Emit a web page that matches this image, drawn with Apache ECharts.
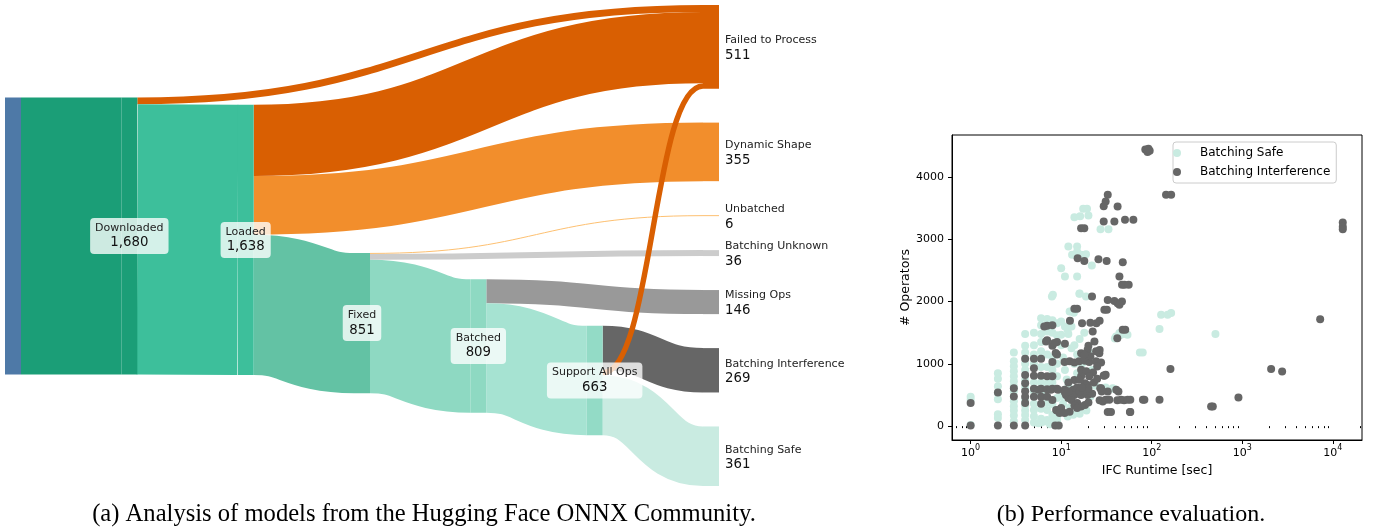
<!DOCTYPE html>
<html>
<head>
<meta charset="utf-8">
<script src="https://cdn.jsdelivr.net/npm/echarts@6/dist/echarts.min.js"></script>
<style>
html,body{margin:0;padding:0;background:#ffffff;}
#chart{width:1374px;height:529px;}
</style>
</head>
<body>
<div id="chart"></div>
<script>
// ---------------- DATA ----------------
const nodeNames = ['Models', 'Downloaded', 'Loaded', 'Fixed', 'Batched', 'Support All Ops',
  'Failed to Process', 'Dynamic Shape', 'Unbatched', 'Batching Unknown', 'Missing Ops',
  'Batching Interference', 'Batching Safe'];
const nodeValues = [1680, 1680, 1638, 851, 809, 663, 511, 355, 6, 36, 146, 269, 361];

const linkSources = ['Models', 'Downloaded', 'Downloaded', 'Loaded', 'Loaded', 'Loaded',
  'Fixed', 'Fixed', 'Fixed', 'Batched', 'Batched', 'Support All Ops', 'Support All Ops', 'Support All Ops'];
const linkTargets = ['Downloaded', 'Failed to Process', 'Loaded', 'Failed to Process', 'Dynamic Shape', 'Fixed',
  'Unbatched', 'Batching Unknown', 'Batched', 'Missing Ops', 'Support All Ops', 'Batching Interference', 'Failed to Process', 'Batching Safe'];
const linkValues = [1680, 42, 1638, 432, 355, 851, 6, 36, 809, 146, 663, 269, 33, 361];

// [runtime seconds, # operators]
const safePoints = [
  [1,470],[1,420],[1,20],
  [2,850],[2,760],[2,640],[2,530],[2,430],[2,190],[2,130],
  [3,1180],[3,1040],[3,960],[3,880],[3,800],[3,720],[3,640],[3,560],[3,400],[3,320],[3,250],[3,170],[3,80],
  [4,1480],[4,1290],[4,1180],[4,1000],[4,900],[4,740],[4,620],[4,420],[4,330],[4,250],[4,180],[4,100],
  [5,1500],[5,1300],[5,1150],[5,1000],[5,700],[5,560],[5,360],[5,260],[5,160],[5,60],
  [6,1730],[6,1620],[6,1480],[6,1350],[6,1200],[6,950],[6,700],[6,520],[6,280],[6,120],[6,60],
  [7,1720],[7,1520],[7,1150],[7,950],[7,680],[7,380],[7,260],[7,100],
  [8,1700],[8,1500],[8,1100],[8,900],[8,700],[8,350],[8,180],[8,60],
  [9,1650],[9,1460],[9,1000],[9,800],[9,450],[9,150],[9,80],
  [7.9,2080],[8.1,2110],
  [10,2535],[11,2401],[15,2401],[15.9,2123],[18.8,2080],[16,2130],
  [12,2883],[15,2883],[15,2800],[13.2,2750],[16.6,2749],[18.8,2760],[21.8,2580],
  [17.5,3488],[19.3,3488],[14,3354],[16.2,3370],[20,3380],[27.2,3161],[33.3,3161],
  [13.8,1820],[12.4,1840],[13,1840],[10,1680],[11.8,1546],[10,1465],[11,1600],[13,1600],[12,1480],
  [16,1400],[18,1500],[14,1300],[13,1250],[10,1300],[15,1150],[10.5,1100],[20,1200],[17,1000],
  [14,1000],[11,900],[15,850],[22,900],[11.5,750],[12,650],[24,650],[10,480],[21,470],[10.5,360],
  [12.5,300],[19,250],[16,200],[11.8,155],[13.6,182],[8.4,155],[5.6,48],[6.5,75],[7.5,30],[9,40],
  [31,620],[38,600],[28,607],[37,607],
  [40.4,1439],[44,1493],[39.2,1407],[52,1477],[54,1465],[45.8,1465],
  [74,1180],[79.6,1181],
  [122,1557],[127,1787],[150,1787],[164,1814],[506,1477]
];
const interferencePoints = [
  [1,370],[1,10],
  [2,540],[2,10],
  [3,610],[3,475],[3,10],
  [4,1080],[4,820],[4,690],[4,560],[4,470],[4,370],[4,10],
  [5,1080],[5,930],[5,810],[5,600],[5,470],
  [6,1080],[6,810],[6,600],[6,470],[6,360],
  [7,1610],[7,1380],[7,800],[7,590],[7,470],
  [8,1620],[8,1290],[8,1030],[8,800],[8,600],[8,420],
  [9,1350],[9,1150],[9,600],[9,250],
  [6.5,1600],[8.7,1172],[11,1323],[5.6,583],[7.7,583],[9.2,583],[10.9,583],[13.6,583],
  [8.6,10],[9.4,10],[8.8,260],[9.5,250],[10,290],
  [10.9,1030],[12.4,1040],[14,1020],[15.8,1040],[18.3,1050],[20.4,1030],[24.3,1040],[27.6,1020],
  [16.6,1170],[19.6,1225],[24.3,1200],[26.4,1170],[21,1120],[18,1100],[18,1144],[25,957],[26,1200],
  [16.6,905],[18.9,880],[22.5,860],[20.4,800],[16.6,800],[18.3,690],[19.6,660],[23,700],[25,760],
  [14,740],[16,744],[12,700],
  [29.5,812],[31,825],[30,807],
  [12.4,500],[14,500],[16.6,500],[19.6,500],[22,520],[18,560],[20,600],[15,620],[11.3,500],[12,450],
  [16,560],[17,620],[12,560],[11,540],
  [13,420],[15,370],[18.3,340],[16.6,316],[20,380],[14,330],[15,290],
  [12.4,230],[10.9,210],[9.6,210],
  [27,610],[27.6,610],[28.8,395],[32.7,556],[42.9,556],[28,556],[40.6,583],
  [26.6,417],[31,422],[34,422],[41.7,417],[45.8,423],[49.5,417],[54.3,422],[58,423],[80,423],[83,422],[122,422],
  [32.7,225],[35.5,225],[57.5,225],[58,225],
  [12.5,1690],[17,1650],[21,1660],[24.5,1650],[26.6,1690],
  [22.3,1520],[23.3,1360],[20,1290],[26.6,1220],[41.7,1412],[47.8,1546],[51,1546],
  [6.8,1360],[8.4,1334],
  [14,1884],[15,1884],[30,1866],[32,1866],
  [21.9,2080],[32.7,2026],[38.7,2009],[42,1973],[46.9,2000],[44,1950],
  [44,2401],[47,2268],[50,2268],[55.7,2268],
  [15.2,2695],[18,2652],[25.8,2680],[31.8,2652],[47.9,2630],
  [16.6,3177],[18,3177],
  [29.5,3284],[38.7,3284],[50.7,3311],[62.7,3311],
  [32.7,3713],[31,3606],[29.5,3530],[42,3525],
  [144,3713],[164,3713],
  [85,4440],[90,4400],[95,4420],[92,4450],
  [161,915],[908,459],[453,315],[473,315],[2085,915],[2760,876],[7260,1717],
  [12900,3270],[12900,3200],[12900,3160]
];

const xTickValues = [1, 10, 100, 1000, 10000];
const xMinorTickValues = [0.7,0.8,0.9, 2,3,4,5,6,7,8,9, 20,30,40,50,60,70,80,90,
  200,300,400,500,600,700,800,900, 2000,3000,4000,5000,6000,7000,8000,9000, 20000];
const yTickValues = [0, 1000, 2000, 3000, 4000];
const seriesNames = ['Batching Safe', 'Batching Interference'];
const captionTexts = ['(a) Analysis of models from the Hugging Face ONNX Community.', '(b) Performance evaluation.'];
const xAxisTitle = 'IFC Runtime [sec]';
const yAxisTitle = '# Operators';

// ---------------- STYLE ----------------
const nodeColors = ['#4e79a7', '#1b9e77', '#3dbf9b', '#63c2a4', '#8ed9c2', '#93dbc6',
  '#d95f02', '#f28e2c', '#fdbf6f', '#cccccc', '#999999', '#666666', '#c9ebe1'];
const linkColorOverride = { 'Batched>Support All Ops': '#a6e3d2' };
const safeColor = '#c9ebe1';
const interfColor = '#666666';
const FONT = 'DejaVu Sans';
const NODE_W = 16;          // node width in px
const NODE_GAP = 206;       // gap between nodes, in flow units

// ---------------- SANKEY LAYOUT ----------------
// columns from longest path (sinks justified right); sink column stacked in data order;
// other nodes placed by weighted least squares on link straightness (weight = value / span).
function computeSankey(names, srcs, tgts, vals, gap) {
  const nodes = names.map((name, i) => ({ name, index: i, sourceLinks: [], targetLinks: [] }));
  const byName = {};
  nodes.forEach(n => { byName[n.name] = n; });
  const links = srcs.map((s, i) => ({ source: byName[s], target: byName[tgts[i]], value: vals[i], width: vals[i], index: i }));
  links.forEach(l => { l.source.sourceLinks.push(l); l.target.targetLinks.push(l); });
  const sumV = arr => arr.reduce((a, l) => a + l.value, 0);
  nodes.forEach(n => { n.value = Math.max(sumV(n.sourceLinks), sumV(n.targetLinks)); });
  let current = new Set(nodes), next = new Set(), x = 0;
  while (current.size && x <= nodes.length) {
    for (const node of current) { node.depth = x; for (const l of node.sourceLinks) next.add(l.target); }
    x++; current = next; next = new Set();
  }
  const maxDepth = x - 1;
  nodes.forEach(n => { n.layer = n.sourceLinks.length ? n.depth : maxDepth; });
  const columns = [];
  nodes.forEach(n => { (columns[n.layer] = columns[n.layer] || []).push(n); });
  const Y1 = Math.max(...columns.map(c => c.reduce((a, n) => a + n.value, 0) + (c.length - 1) * gap));
  const py = gap;
  for (const col of columns) {
    let y = 0;
    for (const node of col) { node.y0 = y; node.y1 = y + node.value; y = node.y1 + py; }
    const extra = (Y1 - y + py) / (col.length + 1);
    col.forEach((node, i) => { node.y0 += extra * (i + 1); node.y1 += extra * (i + 1); });
  }
  const shift = (n, d) => { n.y0 += d; n.y1 += d; };
  function targetTop(source, target) {
    let y = source.y0;
    for (const l of source.sourceLinks) { if (l.target === target) break; y += l.width; }
    for (const l of target.targetLinks) { if (l.source === source) break; y -= l.width; }
    return y;
  }
  function sourceTop(source, target) {
    let y = target.y0;
    for (const l of target.targetLinks) { if (l.source === source) break; y += l.width; }
    for (const l of source.sourceLinks) { if (l.target === target) break; y -= l.width; }
    return y;
  }
  const W = l => l.value / (l.target.layer - l.source.layer);
  for (let it = 0; it < 400; it++) {
    for (let i = 0; i < columns.length - 1; i++) {
      for (const n of columns[i]) {
        let y = 0, w = 0;
        for (const l of n.targetLinks) { const v = W(l); y += targetTop(l.source, n) * v; w += v; }
        for (const l of n.sourceLinks) { const v = W(l); y += sourceTop(n, l.target) * v; w += v; }
        if (w > 0) shift(n, y / w - n.y0);
      }
      let y = 0;
      for (const n of columns[i]) { if (n.y0 < y) shift(n, y - n.y0); y = n.y1 + py; }
      const over = y - py - Y1;
      if (over > 0) columns[i].forEach(n => shift(n, -over));
    }
  }
  for (const node of nodes) {
    let a = node.y0, b = node.y0;
    for (const l of node.sourceLinks) { l.sy = a; a += l.width; }
    for (const l of node.targetLinks) { l.ty = b; b += l.width; }
  }
  return { nodes, links, Y1, maxDepth };
}

const sk = computeSankey(nodeNames, linkSources, linkTargets, linkValues, NODE_GAP);
const colorOf = name => nodeColors[nodeNames.indexOf(name)];
const fmt = v => v.toLocaleString('en-US');
const labelRich = {
  n: { fontSize: 11, lineHeight: 14, fill: '#222', fontFamily: FONT },
  v: { fontSize: 13.3, lineHeight: 16, fill: '#111', fontFamily: FONT }
};

const log10 = v => Math.log10(v);
const SUPX = v => '{b|10}{s|' + Math.round(v) + '}';
const chart = echarts.init(document.getElementById('chart'), null, { renderer: 'canvas' });

const option = {
  animation: false,
  backgroundColor: '#ffffff',
  textStyle: { fontFamily: FONT },
  grid: [{
    left: 952, top: 135, width: 410, height: 305,
    show: true, borderColor: '#000', borderWidth: 1, backgroundColor: 'transparent'
  }, {
    left: 5, top: 5, width: 698, height: 481, show: false
  }],
  legend: {
    orient: 'vertical', left: 1173, top: 142,
    padding: [4, 6, 4, 0], itemWidth: 36, itemHeight: 8, itemGap: 5, icon: 'circle',
    backgroundColor: 'rgba(255,255,255,0.8)', borderColor: '#cccccc', borderWidth: 1, borderRadius: 3,
    textStyle: { fontSize: 12, color: '#000', lineHeight: 14, fontFamily: FONT },
    data: seriesNames
  },
  xAxis: [{
    type: 'value', gridIndex: 0, min: -0.206, max: 4.323, position: 'bottom',
    axisLine: { show: true, onZero: false, lineStyle: { color: '#000', width: 1 } },
    axisTick: { show: true, length: 4, customValues: xTickValues.map(log10), lineStyle: { color: '#000' } },
    axisLabel: {
      customValues: xTickValues.map(log10), margin: 4, color: '#000', fontFamily: FONT,
      formatter: SUPX,
      rich: {
        b: { fontSize: 11, lineHeight: 15, verticalAlign: 'bottom', fontFamily: FONT, color: '#000' },
        s: { fontSize: 8, lineHeight: 8, verticalAlign: 'top', fontFamily: FONT, color: '#000' }
      }
    },
    splitLine: { show: false },
    name: xAxisTitle, nameLocation: 'middle', nameGap: 24,
    nameTextStyle: { fontSize: 12.5, color: '#000', fontFamily: FONT }
  }, {
    type: 'value', gridIndex: 0, min: -0.206, max: 4.323, position: 'bottom',
    axisLine: { show: false },
    axisTick: { show: true, length: 2, customValues: xMinorTickValues.map(log10), lineStyle: { color: '#000' } },
    axisLabel: { show: false },
    splitLine: { show: false }
  }, {
    type: 'value', gridIndex: 1, min: 0, max: sk.maxDepth, show: false
  }],
  yAxis: [{
    type: 'value', gridIndex: 0, min: -222.5, max: 4672.5,
    axisLine: { show: true, onZero: false, lineStyle: { color: '#000', width: 1 } },
    axisTick: { show: true, length: 4, customValues: yTickValues, lineStyle: { color: '#000' } },
    axisLabel: { customValues: yTickValues, margin: 8, fontSize: 11, color: '#000', fontFamily: FONT, formatter: v => String(v) },
    splitLine: { show: false },
    name: yAxisTitle, nameLocation: 'middle', nameGap: 38, nameRotate: 90,
    nameTextStyle: { fontSize: 12.5, color: '#000', fontFamily: FONT }
  }, {
    type: 'value', gridIndex: 1, min: 0, max: sk.Y1, inverse: true, show: false
  }],
  series: [
    { // sankey links: stroked curves, stroke width = flow width
      type: 'custom', xAxisIndex: 2, yAxisIndex: 1, silent: true,
      data: sk.links.map(l => [l.source.layer, l.sy]),
      renderItem: (params, api) => {
        const l = sk.links[params.dataIndex];
        const h = api.size([0, l.width])[1];
        const p1 = api.coord([l.source.layer, l.sy + l.width / 2]);
        const p2 = api.coord([l.target.layer, l.ty + l.width / 2]);
        const x1 = p1[0] + NODE_W, y1 = p1[1], x2 = p2[0], y2 = p2[1];
        const xm = (x1 + x2) / 2;
        const key = l.source.name + '>' + l.target.name;
        return {
          type: 'bezierCurve',
          shape: { x1: x1, y1: y1, cpx1: xm, cpy1: y1, cpx2: xm, cpy2: y2, x2: x2, y2: y2 },
          style: { fill: null, stroke: linkColorOverride[key] || colorOf(l.target.name), lineWidth: Math.max(h, 0.8), lineCap: 'butt' }
        };
      }
    },
    { // sankey nodes
      type: 'custom', xAxisIndex: 2, yAxisIndex: 1, silent: true,
      data: sk.nodes.map(n => [n.layer, n.y0]),
      renderItem: (params, api) => {
        const n = sk.nodes[params.dataIndex];
        const p = api.coord([n.layer, n.y0]);
        const h = api.size([0, n.y1 - n.y0])[1];
        return { type: 'rect', shape: { x: p[0], y: p[1], width: NODE_W, height: h }, style: { fill: colorOf(n.name) } };
      }
    },
    { // sankey labels
      type: 'custom', xAxisIndex: 2, yAxisIndex: 1, silent: true,
      data: sk.nodes.map(n => [n.layer, n.y0]),
      renderItem: (params, api) => {
        const n = sk.nodes[params.dataIndex];
        if (n.index === 0) return null;
        const p = api.coord([n.layer, n.y0]);
        const h = api.size([0, n.y1 - n.y0])[1];
        const txt = '{n|' + n.name + '}\n{v|' + fmt(nodeValues[n.index]) + '}';
        if (n.sourceLinks.length === 0) {
          return { type: 'text', x: p[0] + NODE_W + 6, y: p[1] + h / 2 + 1.5,
            style: { text: txt, rich: labelRich, align: 'left', verticalAlign: 'middle' } };
        }
        return { type: 'text', x: p[0] + NODE_W / 2, y: p[1] + h / 2,
          style: { text: txt, rich: labelRich, align: 'center', verticalAlign: 'middle',
            backgroundColor: 'rgba(255,255,255,0.78)', borderRadius: 4, padding: [3, 5, 3, 5] } };
      }
    },
    {
      type: 'scatter', name: seriesNames[0], xAxisIndex: 0, yAxisIndex: 0,
      symbol: 'circle', symbolSize: 8, itemStyle: { color: safeColor, opacity: 1 },
      data: safePoints.map(p => [log10(p[0]), p[1]])
    },
    {
      type: 'scatter', name: seriesNames[1], xAxisIndex: 0, yAxisIndex: 0,
      symbol: 'circle', symbolSize: 8, itemStyle: { color: interfColor, opacity: 1 },
      data: interferencePoints.map(p => [log10(p[0]), p[1]])
    }
  ],
  graphic: [
    { type: 'text', x: 424, y: 515, style: { text: captionTexts[0], fontSize: 24.6, fontFamily: 'Liberation Serif', fill: '#000', align: 'center', verticalAlign: 'middle' } },
    { type: 'text', x: 1131, y: 515, style: { text: captionTexts[1], fontSize: 24, fontFamily: 'Liberation Serif', fill: '#000', align: 'center', verticalAlign: 'middle' } }
  ]
};
chart.setOption(option);
</script>
</body>
</html>
